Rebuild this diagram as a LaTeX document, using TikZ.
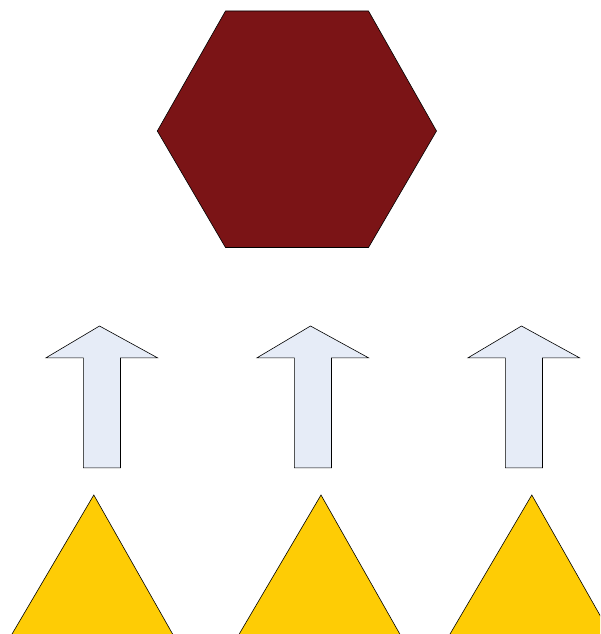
\documentclass[tikz,border=0pt]{standalone}
\definecolor{hexred}{HTML}{7B1416}
\definecolor{arrowblue}{HTML}{E6ECF7}
\definecolor{triyellow}{HTML}{FECC05}
\tikzset{
  hexshape/.style={fill=hexred,draw=black,line width=0.6pt,line join=miter},
  uparrow/.style={fill=arrowblue,draw=black,line width=0.6pt},
  trishape/.style={fill=triyellow,draw=black,line width=0.6pt}
}
\begin{document}
\begin{tikzpicture}[x=1pt,y=-1pt]
\useasboundingbox (0,0) rectangle (600,634);
\clip (0,0) rectangle (600,634);
% hexagon
\draw[hexshape] (225.5,11) -- (368.5,11) -- (436.5,131) -- (368.5,247.5) -- (225.5,247.5) -- (157.3,131) -- cycle;
% arrows
\foreach \cx in {0,211,422}{
  \begin{scope}[xshift=\cx]
  \draw[uparrow] (99.5,326) -- (157.5,357.8) -- (120.5,357.8) -- (120.5,467.8) -- (83.3,467.8) -- (83.3,357.8) -- (46,357.8) -- cycle;
  \end{scope}
}
% triangles
\draw[trishape] (93.8,495) -- (176,640) -- (8.5,640) -- cycle;
\draw[trishape] (321,495) -- (403.2,640) -- (235.7,640) -- cycle;
\draw[trishape] (531.8,495) -- (614,640) -- (446.5,640) -- cycle;
\end{tikzpicture}
\end{document}
